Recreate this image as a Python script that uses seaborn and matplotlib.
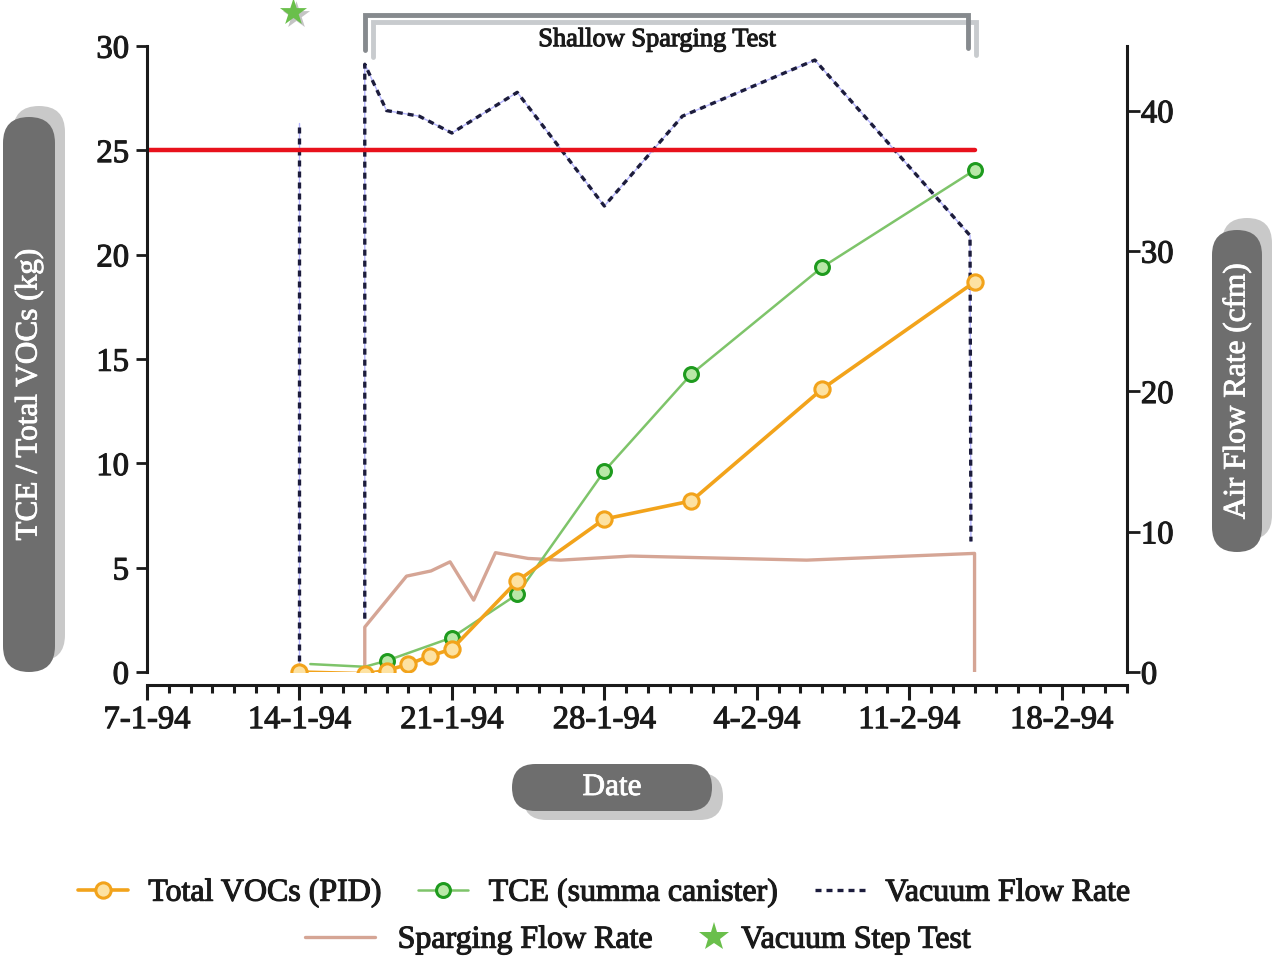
import numpy as np
import pandas as pd
import matplotlib
matplotlib.use("Agg")
import matplotlib.pyplot as plt
import matplotlib.transforms as mtransforms
import matplotlib.patheffects as pe
from matplotlib.patches import FancyBboxPatch
from matplotlib.lines import Line2D
import seaborn as sns

sns.set_style("ticks")
plt.rcParams['font.family'] = ['Liberation Serif', 'DejaVu Serif']

# Total VOCs (PID), kg - left axis
voc_dates = ['1994-01-14', '1994-01-17', '1994-01-18', '1994-01-19', '1994-01-20', '1994-01-21',
             '1994-01-24', '1994-01-28', '1994-02-01', '1994-02-07', '1994-02-14']
voc_kg = [0.0, -0.08, 0.07, 0.37, 0.77, 1.1, 4.36, 7.33, 8.2, 13.56, 18.69]

# TCE (summa canister), kg - left axis (first two points drawn without markers)
tce_dates = ['1994-01-14 12:00', '1994-01-17', '1994-01-18', '1994-01-21', '1994-01-24',
             '1994-01-28', '1994-02-01', '1994-02-07', '1994-02-14']
tce_kg = [0.38, 0.25, 0.54, 1.65, 3.72, 9.63, 14.28, 19.4, 24.05]
tce_marked = [2, 3, 4, 5, 6, 7, 8]

# vacuum flow rate, cfm - right axis (two separate segments)
vac_dates = ['1994-01-14', '1994-01-14', '1994-01-17', '1994-01-17', '1994-01-18',
             '1994-01-19 12:00', '1994-01-21', '1994-01-24', '1994-01-28', '1994-01-31 14:00',
             '1994-02-06 16:00', '1994-02-13 19:00', '1994-02-13 20:00']
vac_cfm = [0, 39.1, 3.8, 43.3, 40.0, 39.6, 38.4, 41.3, 33.2, 39.6, 43.6, 31.1, 9.3]
vac_seg = [0, 0, 1, 1, 1, 1, 1, 1, 1, 1, 1, 1, 1]

# sparging flow rate, cfm - right axis
spar_dates = ['1994-01-17', '1994-01-17', '1994-01-18 22:00', '1994-01-20 01:00', '1994-01-20 22:00',
              '1994-01-22', '1994-01-23', '1994-01-24 12:00', '1994-01-26', '1994-01-29 05:00',
              '1994-02-06 07:00', '1994-02-14', '1994-02-14']
spar_cfm = [0, 3.2, 6.83, 7.2, 7.85, 5.12, 8.5, 8.09, 7.97, 8.26, 7.97, 8.45, 0]

# 25 kg limit line
limit_dates = ['1994-01-07', '1994-02-14']
limit_kg = [25, 25]

# vacuum step test
star_dates = ['1994-01-13 17:00']
star_kg = [31.63]

# shallow sparging test bracket
bracket_dates = ['1994-01-17', '1994-01-17', '1994-02-13 17:00', '1994-02-13 17:00']
bracket_kg = [29.8, 31.48, 31.48, 29.9]

tick_dates = ['1994-01-07', '1994-01-14', '1994-01-21', '1994-01-28', '1994-02-04', '1994-02-11', '1994-02-18']
tick_labels = ['7-1-94', '14-1-94', '21-1-94', '28-1-94', '4-2-94', '11-2-94', '18-2-94']


def to_dt(values):
    return pd.to_datetime(values, format='ISO8601')


c_voc = '#f2a31b'
c_voc_face = '#fde2a2'
c_tce = '#7ec46a'
c_tce_edge = '#1e9b1e'
c_tce_face = '#b9e8a8'
c_vac = '#1c1c3c'
c_spar = '#d5a595'
c_red = '#e8111c'
c_ink = '#1a1a1a'

heavy = [pe.withStroke(linewidth=0.8, foreground=c_ink)]
heavy_w = [pe.withStroke(linewidth=0.6, foreground='white')]

fig = plt.figure(figsize=(12.72, 9.6), dpi=100)
ax = fig.add_axes([147 / 1272, 0.3, (1127 - 147) / 1272, (672 - 46) / 960])
ax2 = ax.twinx()

# right axis series
sns.lineplot(x=to_dt(spar_dates), y=spar_cfm, ax=ax2, color=c_spar, lw=2.4,
             estimator=None, sort=False)
sns.lineplot(x=to_dt(vac_dates), y=vac_cfm, units=vac_seg, ax=ax2, color='#4848ff',
             lw=1.0, alpha=0.4, estimator=None, sort=False)
sns.lineplot(x=to_dt(vac_dates), y=vac_cfm, units=vac_seg, ax=ax2, color=c_vac,
             lw=2.4, linestyle=(0, (1.8, 1.5)), estimator=None, sort=False)

# left axis series
sns.lineplot(x=to_dt(limit_dates), y=limit_kg, ax=ax, color=c_red, lw=3.2, estimator=None)
sns.lineplot(x=to_dt(tce_dates), y=tce_kg, ax=ax, color=c_tce, lw=1.8, estimator=None,
             sort=False, marker='o', markersize=10, markerfacecolor=c_tce_face,
             markeredgecolor=c_tce_edge, markeredgewidth=2.2, markevery=tce_marked)
sns.lineplot(x=to_dt(voc_dates), y=voc_kg, ax=ax, color=c_voc, lw=2.6, estimator=None,
             sort=False, marker='o', markersize=11, markerfacecolor=c_voc_face,
             markeredgecolor=c_voc, markeredgewidth=2.2)

# vacuum step test star (above plot area), with soft shadow
shadow_tr = mtransforms.offset_copy(ax.transData, fig=fig, x=3, y=-3, units='dots')
ax.scatter(to_dt(star_dates), star_kg, marker='*', s=420, color='#c4c4c4',
           transform=shadow_tr, clip_on=False, zorder=5, linewidths=0)
sns.scatterplot(x=to_dt(star_dates), y=star_kg, ax=ax, marker='*', s=420,
                color='#6abf4b', linewidth=0, clip_on=False, zorder=6)

# bracket for shallow sparging test
br_shadow = mtransforms.offset_copy(ax.transData, fig=fig, x=8, y=-7, units='dots')
ax.plot(to_dt(bracket_dates), bracket_kg, color='#c8cbce', lw=3.5, clip_on=False,
        transform=br_shadow, solid_joinstyle='miter')
ax.plot(to_dt(bracket_dates), bracket_kg, color='#868a8e', lw=3.5, clip_on=False,
        solid_joinstyle='miter')
ax.text(pd.Timestamp('1994-01-30 10:00'), 30.28, 'Shallow Sparging Test', ha='center', va='center',
        fontsize=19, color=c_ink, clip_on=False, path_effects=heavy)

# stack left axis above the twin
ax.set_zorder(ax2.get_zorder() + 1)
ax.patch.set_visible(False)

ax.set_xlim(pd.Timestamp('1994-01-07'), pd.Timestamp('1994-02-21'))
ax.set_ylim(0, 30)
ax2.set_ylim(0, 44.6)
ax.set_yticks([0, 5, 10, 15, 20, 25, 30])
ax2.set_yticks([0, 10, 20, 30, 40])
ax.set_xticks(to_dt(tick_dates))
ax.set_xticklabels(tick_labels)
ax.set_xticks(pd.date_range('1994-01-07', '1994-02-21', freq='D'), minor=True)
ax.set_xlabel('')
ax.set_ylabel('')
ax2.set_ylabel('')

for s in ['top', 'right']:
    ax.spines[s].set_visible(False)
for s in ['top', 'left', 'bottom']:
    ax2.spines[s].set_visible(False)
for s in ['left', 'bottom']:
    ax.spines[s].set_linewidth(2.2)
    ax.spines[s].set_color(c_ink)
ax2.spines['right'].set_linewidth(2.2)
ax2.spines['right'].set_color(c_ink)
ax.spines['bottom'].set_position(('outward', 9.5))

ax.tick_params(axis='y', direction='out', length=8, width=2, labelsize=23.5, pad=5,
               color=c_ink, labelcolor=c_ink)
ax.tick_params(axis='x', which='major', direction='out', length=11, width=2.2, labelsize=23.5,
               pad=3, color=c_ink, labelcolor=c_ink)
ax.tick_params(axis='x', which='minor', direction='out', length=6, width=2.2, color=c_ink)
ax2.tick_params(axis='y', direction='out', length=9, width=2, labelsize=23.5, pad=1,
                color=c_ink, labelcolor=c_ink)
for t in ax.xaxis.get_major_ticks() + ax.yaxis.get_major_ticks() + ax2.yaxis.get_major_ticks():
    t.label1.set_path_effects(heavy)
    t.label2.set_path_effects(heavy)


def pill(x0, y0, x1, y1, dx, dy, text, rot):
    # pixel box from the top-left corner, drawn in inches
    w = (x1 - x0) / 100
    h = (y1 - y0) / 100
    left = x0 / 100
    bottom = (960 - y1) / 100
    r = min(w, h) / 2
    style = f"round,pad=0,rounding_size={r}"
    fig.add_artist(FancyBboxPatch((left + dx / 100, bottom - dy / 100), w, h, boxstyle=style,
                                  transform=fig.dpi_scale_trans, fc='#c9c9c9', ec='none'))
    fig.add_artist(FancyBboxPatch((left, bottom), w, h, boxstyle=style,
                                  transform=fig.dpi_scale_trans, fc='#6e6e6e', ec='none'))
    fig.text((x0 + x1) / 2 / 1272, 1 - (y0 + y1) / 2 / 960, text, rotation=rot, color='white',
             fontsize=22.5, ha='center', va='center', path_effects=heavy_w)


pill(3, 117, 55, 672, 10, -11, 'TCE / Total VOCs (kg)', 90)
pill(1212, 230, 1262, 552, 10, -12, 'Air Flow Rate (cfm)', 90)
pill(512, 764, 712, 811, 11, 9, 'Date', 0)

h_voc = Line2D([], [], color=c_voc, lw=2.6, marker='o', ms=11, mfc=c_voc_face, mec=c_voc, mew=2.2)
h_tce = Line2D([], [], color=c_tce, lw=1.8, marker='o', ms=10, mfc=c_tce_face, mec=c_tce_edge, mew=2.2)
h_vac = Line2D([], [], color=c_vac, lw=2.4, linestyle=(0, (1.8, 1.5)))
h_spar = Line2D([], [], color=c_spar, lw=2.4)
h_star = Line2D([], [], color='#6abf4b', marker='*', ms=22, linestyle='none', mew=0)

leg_kw = dict(loc='center left', frameon=False, fontsize=23, borderaxespad=0, borderpad=0,
              labelcolor=c_ink)
legs = [
    fig.legend([h_voc, h_tce, h_vac], ['Total VOCs (PID)', 'TCE (summa canister)', 'Vacuum Flow Rate'],
               bbox_to_anchor=(78 / 1272, 1 - 893 / 960), ncol=3, handlelength=1.55,
               handletextpad=0.65, columnspacing=1.15, **leg_kw),
    fig.legend([h_spar], ['Sparging Flow Rate'], bbox_to_anchor=(305 / 1272, 1 - 940 / 960),
               handlelength=2.2, handletextpad=0.7, **leg_kw),
    fig.legend([h_star], ['Vacuum Step Test'], bbox_to_anchor=(698 / 1272, 1 - 940 / 960),
               handlelength=1.0, handletextpad=0.35, **leg_kw),
]
for lg in legs:
    for txt in lg.get_texts():
        txt.set_path_effects(heavy)

fig.savefig('out.png', dpi=100)
